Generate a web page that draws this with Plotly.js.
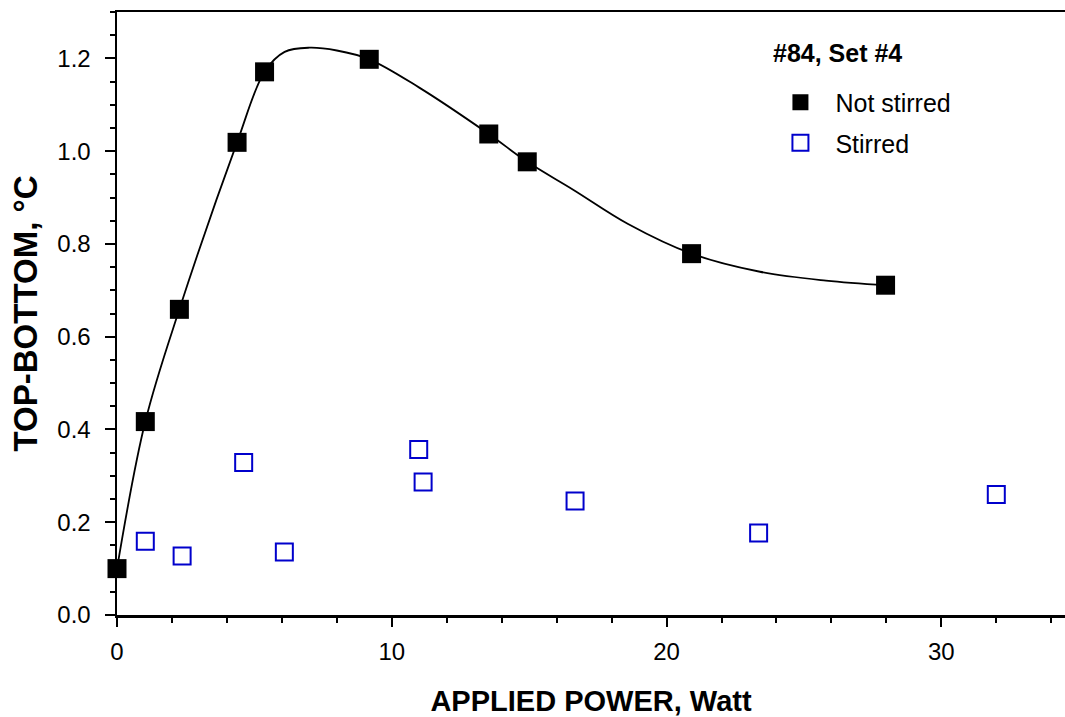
<!DOCTYPE html>
<html>
<head>
<meta charset="utf-8">
<script src="https://cdn.plot.ly/plotly-3.0.1.min.js"></script>
<style>html,body{margin:0;padding:0;background:#fff;}#chart{width:1065px;height:717px;}</style>
</head>
<body>
<div id="chart"></div>
<script>
// Not stirred measurements
var notStirredX = [0, 1.03, 2.27, 4.37, 5.37, 9.18, 13.53, 14.93, 20.91, 27.97];
var notStirredY = [0.10, 0.417, 0.659, 1.019, 1.171, 1.198, 1.037, 0.977, 0.779, 0.711];
// Stirred measurements
var stirredX = [1.03, 2.37, 4.61, 6.09, 10.98, 11.14, 16.67, 23.35, 32.0];
var stirredY = [0.159, 0.127, 0.329, 0.136, 0.357, 0.287, 0.246, 0.177, 0.26];
// Fitted curve through the not-stirred data
var fitX = [0, 1.03, 2.27, 4.37, 5.37, 6.1, 7.0, 8.0, 9.18, 11.0, 13.53, 14.93, 16.6, 18.6, 20.91, 23.4, 25.8, 27.97];
var fitY = [0.10, 0.417, 0.659, 1.019, 1.171, 1.214, 1.223, 1.217, 1.198, 1.137, 1.037, 0.977, 0.917, 0.843, 0.779, 0.740, 0.721, 0.711];

var xTickVals = [0, 10, 20, 30];
var yTickVals = [0.0, 0.2, 0.4, 0.6, 0.8, 1.0, 1.2];

var titles = {
  x: 'APPLIED POWER, Watt',
  y: 'TOP-BOTTOM, \u00B0C',
  legend: '#84, Set #4',
  s1: 'Not stirred',
  s2: 'Stirred'
};

var FONT = 'Liberation Sans, Arial, Helvetica, sans-serif';

var traces = [
  {
    x: fitX, y: fitY, mode: 'lines', type: 'scatter',
    line: {color: '#000', width: 1.8, shape: 'spline', smoothing: 1},
    showlegend: false, hoverinfo: 'skip', cliponaxis: false
  },
  {
    x: notStirredX, y: notStirredY, mode: 'markers', type: 'scatter', name: titles.s1,
    legendgroup: 'a',
    marker: {symbol: 'square', size: 19, color: '#000'},
    cliponaxis: false
  },
  {
    x: stirredX, y: stirredY, mode: 'markers', type: 'scatter', name: titles.s2,
    legendgroup: 'b',
    marker: {symbol: 'square-open', size: 17, color: '#0000cc', line: {width: 2, color: '#0000cc'}},
    cliponaxis: false
  }
];

var layout = {
  width: 1065, height: 717,
  margin: {l: 117, r: 0, t: 12, b: 102},
  paper_bgcolor: '#fff', plot_bgcolor: '#fff',
  font: {family: FONT, size: 24, color: '#000'},
  showlegend: true,
  legend: {
    x: 0.684, y: 0.888, xanchor: 'left', yanchor: 'top',
    bgcolor: 'rgba(0,0,0,0)', borderwidth: 0,
    font: {family: FONT, size: 25, color: '#000'},
    itemwidth: 60,
    traceorder: 'grouped',
    tracegroupgap: 5
  },
  annotations: [{
    text: '<b>' + titles.legend + '</b>',
    xref: 'paper', yref: 'paper', x: 0.6895, y: 0.958,
    xanchor: 'left', yanchor: 'top', showarrow: false,
    font: {family: FONT, size: 25, color: '#000'}
  }],
  xaxis: {
    range: [0, 34.5], autorange: false,
    tickmode: 'array', tickvals: xTickVals, ticktext: xTickVals.map(String),
    ticks: 'outside', ticklen: 9, tickwidth: 2, tickcolor: '#000',
    ticklabelstandoff: 5,
    minor: {dtick: 2, tick0: 0, ticks: 'outside', ticklen: 5, tickwidth: 2, tickcolor: '#000'},
    showline: true, linewidth: 2.5, linecolor: '#000', mirror: true,
    showgrid: false, zeroline: false,
    tickfont: {family: FONT, size: 24, color: '#000'},
    title: {text: '<b>' + titles.x + '</b>', font: {family: FONT, size: 29, color: '#000'}, standoff: 30}
  },
  yaxis: {
    range: [0, 1.3], autorange: false,
    tickmode: 'array', tickvals: yTickVals, ticktext: yTickVals.map(function(v){return v.toFixed(1);}),
    ticks: 'outside', ticklen: 10, tickwidth: 2, tickcolor: '#000',
    ticklabelstandoff: 9,
    minor: {dtick: 0.05, tick0: 0, ticks: 'outside', ticklen: 5, tickwidth: 2, tickcolor: '#000'},
    showline: true, linewidth: 2.5, linecolor: '#000',
    showgrid: false, zeroline: false,
    tickfont: {family: FONT, size: 24, color: '#000'},
    title: {text: '<b>' + titles.y + '</b>', font: {family: FONT, size: 33, color: '#000'}, standoff: 10}
  }
};

Plotly.newPlot('chart', traces, layout, {displayModeBar: false, staticPlot: true});
</script>
</body>
</html>
